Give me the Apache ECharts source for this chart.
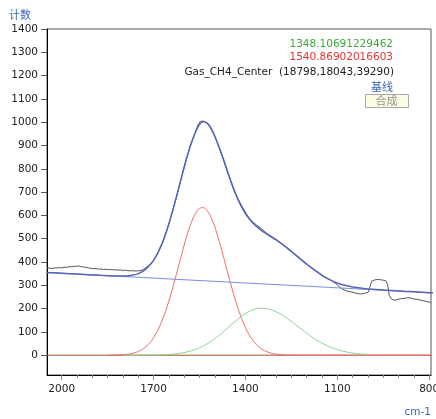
<!DOCTYPE html>
<html><head><meta charset="utf-8">
<script src="https://cdn.jsdelivr.net/npm/echarts@6/dist/echarts.min.js"></script>
<style>html,body{margin:0;padding:0;background:#fff}#c{width:436px;height:419px}</style>
</head><body><div id="c"></div><script>
// x tick labels (cm-1) and y tick labels (counts)
const xTicks = [2000, 1700, 1400, 1100, 800];
const xMinor = [800,850,900,950,1000,1050,1100,1150,1200,1250,1300,1350,1400,1450,1500,1550,1600,1650,1700,1750,1800,1850,1900,1950,2000];
const yTicks = [0,100,200,300,400,500,600,700,800,900,1000,1100,1200,1300,1400];

// common wavenumber grid of the fitted curves
const fitWn = [2050,2025,2000,1975,1950,1925,1900,1875,1850,1825,1800,1775,1750,1725,1700,1675,1650,1625,1600,1587.5,1575,1562.5,1550,1537.5,1525,1512.5,1500,1487.5,1475,1450,1425,1400,1375,1350,1325,1300,1275,1250,1225,1200,1175,1150,1125,1100,1075,1050,1025,1000,975,950,925,900,875,850,825,800,775];
// peak 1540.869 (red)
const redVals = [null,null,null,null,null,null,null,null,0.2,0.7,2.2,6.3,15.9,36.5,75.2,139.5,232.7,349.7,472.8,528.3,575.1,609.8,629.7,633.3,620.5,592,550.2,498,439.1,315.4,203.8,118.6,62.1,29.2,12.4,4.7,1.6,0.5,0.1,0,0,0,0,0,0,0,0,0,0,0,0,0,0,0,0,0,0];
// peak 1348.107 (green)
const greenVals = [null,null,null,null,null,null,null,null,null,null,0,0.1,0.1,0.3,0.7,1.6,3.2,6.2,11.3,15,19.5,25,31.7,39.6,48.8,59.2,70.8,83.6,97.2,126,154.4,178.7,195.4,202,198.3,186.5,167.9,144.7,119.5,94.4,71.5,51.8,35.9,23.9,15.2,9.3,5.4,3.0,null,null,null,null,null,null,null,null,null];
// 合成 (composite fit)
const fitVals = [355.1,353.4,351.7,349.9,348.2,346.5,344.7,343.0,341.5,340.2,340.0,342.5,350.3,369.4,406.8,470.2,563.3,681.6,808,866,916.8,960,990,1002,996,975,940,898,851.6,755,670,607.4,565.9,537.8,515.6,494.4,470.9,444.9,417.5,390.6,366,343,324,310,300,293,288,284.5,282,279.5,277.5,275.5,273.7,272,270.3,268.5,266.8];
// 基线 (baseline)
const baseWn = [2048, 794];
const baseVals = [355, 268];
// measured spectrum Gas_CH4_Center
const measured = [[2048,373],[2040,374],[2032,372],[2024,375],[2016,374],[2008,376],[2000,375],[1992,378],[1984,377],[1976,380],[1968,379],[1960,382],[1952,381],[1944,383],[1936,380],[1928,378],[1920,377],[1912,374],[1904,373],[1896,371],[1888,372],[1880,369],[1872,370],[1864,368],[1856,369],[1848,367],[1840,368],[1832,366],[1824,367],[1816,365],[1808,366],[1800,364],[1792,365],[1784,363],[1776,362],[1768,363],[1760,361],[1752,362],[1744,363],[1736,366],
[1730,368],[1715,385],[1700,406],[1685,442],[1670,485],[1655,543],[1640,611],[1625,680],[1610,757],[1595,831],[1580,898],[1565,950],[1555,988],[1548,1003],[1542,1008],[1536,1005],[1530,1002],[1524,994],[1515,978],[1500,940],[1485,889],[1470,836],[1455,776],[1440,718],[1425,672],[1410,636],[1395,602],[1380,576],[1365,560],[1350,545],[1340,534],[1325,518],[1310,506],[1295,493],[1280,478],[1265,463],[1250,447],[1235,430],[1220,414],[1205,398],[1190,380],[1175,366],[1160,353],[1145,340],[1130,328],[1115,317],[1105,307],[1095,296],[1085,285],[1075,279],[1065,274],[1055,272],[1045,268],[1035,265],[1025,263],[1015,264],[1005,268],[998,271],[992,300],[988,318],[980,322],[970,325],[960,324],[950,322],[942,320],[936,305],[930,255],[922,240],[912,236],[900,240],[890,243],[880,244],[870,247],[860,245],[850,241],[840,240],[830,237],[820,234],[810,231],[800,228],[794,226]];

const zip = (xs, ys) => xs.map((x, i) => [x, ys[i]]);
const F = 'DejaVu Sans';
const plain = v => String(v);
const line = (name, data, color, width, smooth, z) => ({
  name, type: 'line', data, showSymbol: false, smooth, z, silent: true, connectNulls: false,
  lineStyle: { color, width }, itemStyle: { color }
});

const chart = echarts.init(document.getElementById('c'), null, { renderer: 'canvas' });
chart.setOption({
  animation: false,
  grid: { left: 47, right: 5, top: 29, bottom: 44, containLabel: false, outerBoundsMode: 'none',
          show: true, borderColor: '#555', borderWidth: 1, backgroundColor: '#fff' },
  xAxis: [{
    type: 'value', min: 794, max: 2048, inverse: true, position: 'bottom',
    axisLine: { show: true, onZero: false, lineStyle: { color: '#000', width: 1 } },
    axisTick: { show: true, customValues: xTicks, length: 5, lineStyle: { color: '#888' } },
    axisLabel: { customValues: xTicks, formatter: plain, color: '#222', fontFamily: F, fontSize: 10.5, margin: 9, hideOverlap: false },
    splitLine: { show: false }
  }, {
    type: 'value', min: 794, max: 2048, inverse: true, position: 'bottom',
    axisLine: { show: false, onZero: false },
    axisTick: { show: true, customValues: xMinor, length: 3, lineStyle: { color: '#888' } },
    axisLabel: { show: false }, splitLine: { show: false }
  }],
  yAxis: {
    type: 'value', min: -85, max: 1400,
    axisLine: { show: true, onZero: false, lineStyle: { color: '#000', width: 1 } },
    axisTick: { show: true, customValues: yTicks, length: 6, lineStyle: { color: '#555' } },
    axisLabel: { customValues: yTicks, formatter: plain, color: '#222', fontFamily: F, fontSize: 10.5, margin: 9 },
    splitLine: { show: false }
  },
  series: [
    line('zero', zip(baseWn, [0, 0]), '#a0522d', 1, false, 1),
    line('1540.86902016603', zip(fitWn, redVals), '#f06c6c', 1, 0.4, 2),
    line('1348.10691229462', zip(fitWn, greenVals), '#8cd48c', 1, 0.4, 3),
    line('Gas_CH4_Center', measured, '#555', 1, false, 4),
    line('基线', zip(baseWn, baseVals), '#7b90d8', 1.2, false, 5),
    line('合成', zip(fitWn, fitVals), '#5565bb', 1.5, 0.4, 6)
  ],
  graphic: [
    { type: 'text', x: 9, y: 15, style: { text: '计数', fill: '#3a66b8', font: '11px "Noto Sans CJK SC"', textVerticalAlign: 'middle', verticalAlign: 'middle' } },
    { type: 'text', x: 393, y: 44, style: { text: '1348.10691229462', fill: '#3cab3c', font: '10.5px "DejaVu Sans"', textAlign: 'right', textVerticalAlign: 'middle', verticalAlign: 'middle' } },
    { type: 'text', x: 393, y: 57.5, style: { text: '1540.86902016603', fill: '#e83333', font: '10.5px "DejaVu Sans"', textAlign: 'right', textVerticalAlign: 'middle', verticalAlign: 'middle' } },
    { type: 'text', x: 394, y: 72, style: { text: 'Gas_CH4_Center  (18798,18043,39290)', fill: '#222', font: '10.5px "DejaVu Sans"', textAlign: 'right', textVerticalAlign: 'middle', verticalAlign: 'middle' } },
    { type: 'text', x: 393, y: 87, style: { text: '基线', fill: '#3a66b8', font: '11px "Noto Sans CJK SC"', textAlign: 'right', textVerticalAlign: 'middle', verticalAlign: 'middle' } },
    { type: 'rect', shape: { x: 365.5, y: 94.5, width: 43, height: 13 }, style: { fill: '#fdfde4', stroke: '#a8a8a8', lineWidth: 1 } },
    { type: 'text', x: 386.5, y: 101, style: { text: '合成', fill: '#909090', font: '11px "Noto Sans CJK SC"', textAlign: 'center', textVerticalAlign: 'middle', verticalAlign: 'middle' } },
    { type: 'text', x: 431, y: 412, style: { text: 'cm-1', fill: '#3a66b8', font: '10.5px "DejaVu Sans"', textAlign: 'right', textVerticalAlign: 'middle', verticalAlign: 'middle' } }
  ]
});
</script></body></html>
